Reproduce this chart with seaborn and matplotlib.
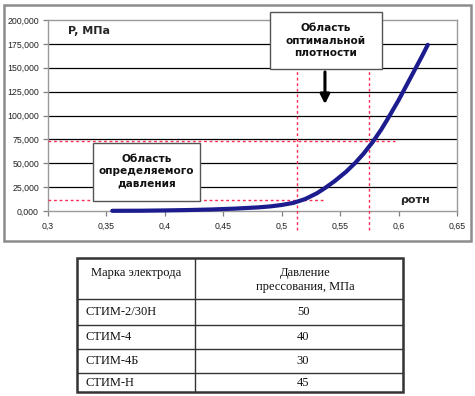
import pandas as pd
import matplotlib.pyplot as plt
import seaborn as sns
from matplotlib.patches import Rectangle
from matplotlib.lines import Line2D

# curve: pressure vs relative density
rho = [0.355, 0.38, 0.40, 0.42, 0.44, 0.46, 0.48, 0.49, 0.50, 0.51, 0.52, 0.53,
       0.537, 0.545, 0.555, 0.563, 0.57, 0.578, 0.585, 0.59, 0.60, 0.61, 0.62, 0.625]
pressure = [0.2, 0.3, 0.6, 1.0, 1.6, 2.5, 3.8, 4.8, 6.3, 8.5, 12.5, 18.5,
            24.0, 31.0, 41.0, 50.5, 60.0, 72.5, 85.0, 95.0, 116.0, 139.0, 162.0, 174.0]

x_ticks = [0.3, 0.35, 0.4, 0.45, 0.5, 0.55, 0.6, 0.65]
y_ticks = [0, 25, 50, 75, 100, 125, 150, 175, 200]

# optimal density bounds and matching pressures
opt_rho = [0.5135, 0.575]
opt_p = [11, 73]

# table
brands = ["СТИМ-2/30Н", "СТИМ-4", "СТИМ-4Б", "СТИМ-Н"]
press_values = [50, 40, 30, 45]
col_headers = ["Марка электрода", "Давление\nпрессования, МПа"]

sns.set_theme(style="white")
plt.rcParams['font.family'] = ['DejaVu Sans']

W, H = 475, 396
fig = plt.figure(figsize=(W / 100, H / 100), dpi=100)
fig.patch.set_facecolor("white")

# overlay axes in pixel coords for frame and table
ov = fig.add_axes([0, 0, 1, 1], zorder=0)
ov.set_xlim(0, W)
ov.set_ylim(H, 0)
ov.axis("off")
ov.add_patch(Rectangle((4, 5), 467, 236, fill=False, edgecolor="#8c8c8c", lw=1.8))

ax = fig.add_axes([48 / W, 1 - 211 / H, 409 / W, 191 / H], zorder=2)
ax.set_facecolor("none")

df = pd.DataFrame({"rho": rho, "P": pressure})
sns.lineplot(data=df, x="rho", y="P", ax=ax, color="#1c1c8f", lw=3.0,
             zorder=5, clip_on=False)

ax.set_xlim(0.3, 0.65)
ax.set_ylim(0, 200)
ax.set_xticks(x_ticks)
ax.set_yticks(y_ticks)
ax.set_xticklabels([str(v).replace('.', ',') for v in x_ticks],
                   fontfamily="Liberation Sans", fontsize=6.3)
ax.set_yticklabels([f"{v:.3f}".replace('.', ',') for v in y_ticks],
                   fontfamily="Liberation Sans", fontsize=6.3)
ax.tick_params(axis="both", which="major", length=3.5, width=0.9,
               color="#808080", pad=3, labelcolor="#222222")
ax.tick_params(axis="x", direction="out", bottom=True, pad=4)
ax.tick_params(axis="y", direction="out", left=True)
ax.set_xlabel("")
ax.set_ylabel("")

for v in y_ticks[1:-1]:
    ax.axhline(v, color="black", lw=0.9, zorder=1)
for s in ["left", "bottom", "right", "top"]:
    ax.spines[s].set_visible(True)
    ax.spines[s].set_color("#9a9a9a")
    ax.spines[s].set_linewidth(1.0)

# dashed guide lines
red = "#ff2a55"
for r in opt_rho:
    ax.plot([r, r], [-20, 147.5], ls=(0, (2, 2)), color=red, lw=1.0,
            clip_on=False, zorder=3)
ax.plot([0.3, 0.537], [opt_p[0], opt_p[0]], ls=(0, (2, 2)), color=red, lw=1.0, zorder=3)
ax.plot([0.3, 0.597], [opt_p[1], opt_p[1]], ls=(0, (2, 2)), color=red, lw=1.0, zorder=3)

# text boxes
ax.add_patch(Rectangle((0.49, 148.5), 0.0958, 59.7, facecolor="white",
                       edgecolor="#555555", lw=1.0, zorder=6, clip_on=False))
ax.text(0.5379, 178.5, "Область\nоптимальной\nплотности", ha="center", va="center",
        fontsize=7.6, fontweight="bold", linespacing=1.3, zorder=7, color="#111111")
ax.add_patch(Rectangle((0.3385, 10.5), 0.0915, 60.6, facecolor="white",
                       edgecolor="#555555", lw=1.0, zorder=6))
ax.text(0.3843, 41.5, "Область\nопределяемого\nдавления", ha="center", va="center",
        fontsize=7.6, fontweight="bold", linespacing=1.3, zorder=7, color="#111111")

ax.annotate("", xy=(0.537, 109), xytext=(0.537, 148.5),
            arrowprops=dict(arrowstyle="-|>", lw=2.2, color="black", mutation_scale=14),
            zorder=7)

ax.text(0.317, 188, "P, МПа", fontsize=8, fontweight="bold", va="center")
ax.text(0.601, 12, "ρотн", fontsize=8, fontweight="bold", va="center")

# table
x0, x1, xc = 77, 403, 195
row_y = [258, 299, 325, 349, 373, 392]
tc = "#333333"
ov.add_patch(Rectangle((x0, row_y[0]), x1 - x0, row_y[-1] - row_y[0], fill=False,
                       edgecolor=tc, lw=1.8))
for y in row_y[1:-1]:
    ov.add_line(Line2D([x0, x1], [y, y], color=tc, lw=1.0))
ov.add_line(Line2D([xc, xc], [row_y[0], row_y[-1]], color=tc, lw=1.0))

serif = dict(fontfamily="Liberation Serif", fontsize=9, color="#111111")
ov.text((x0 + xc) / 2, 273, col_headers[0], ha="center", va="center", **serif)
ov.text(305, 280, col_headers[1], ha="center", va="center",
        linespacing=1.3, **serif)
for i, (b, p) in enumerate(zip(brands, press_values)):
    yc = (row_y[i + 1] + row_y[i + 2]) / 2
    ov.text(85, yc, b, ha="left", va="center", **serif)
    ov.text(303, yc, str(p), ha="center", va="center", **serif)

fig.savefig("out.png", dpi=100)
